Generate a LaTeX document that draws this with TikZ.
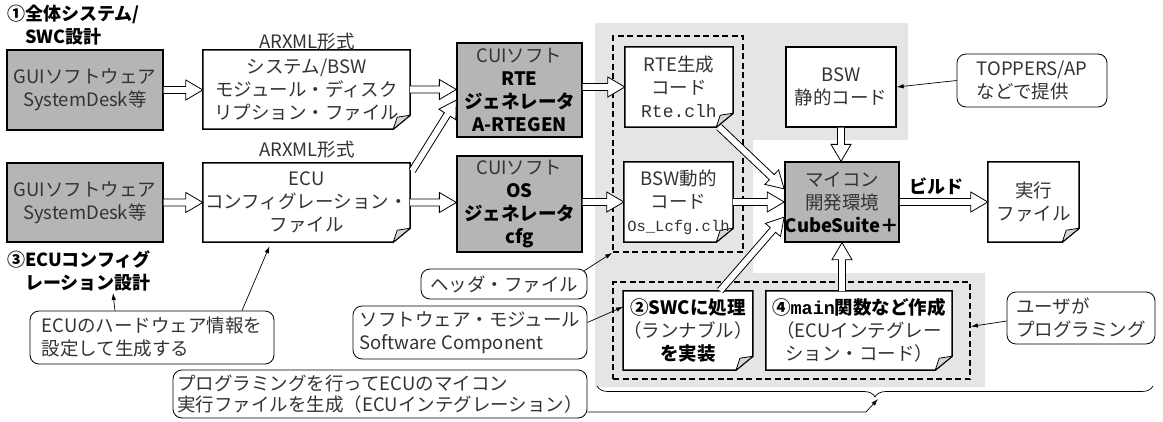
\documentclass[tikz,border=0pt]{standalone}
\usepackage{fontspec}
\setmainfont{Noto Sans CJK JP}
\newfontfamily\monof{Liberation Mono}
\usetikzlibrary{arrows.meta,calc,decorations.pathreplacing}
\definecolor{boxgray}{HTML}{B4B5B7}
\definecolor{bggray}{HTML}{E4E5E6}
\definecolor{foldgray}{HTML}{D6D6D6}
\definecolor{txt}{HTML}{333333}
\pgfdeclarelayer{back}
\pgfdeclarelayer{mid}
\pgfsetlayers{back,mid,main}
\newcommand\bk[1]{{\color{black}\bfseries #1}}
\tikzset{
  base/.style={font=\fontsize{18.5}{23}\selectfont, text=txt, inner sep=0pt, align=center},
  gbox/.style={base, draw=black, line width=1.3pt, fill=boxgray},
  docnode/.style={base},
  wbox/.style={base, draw=black, line width=1.3pt, fill=white},
  callout/.style={base, draw=black, line width=0.8pt, rounded corners=9pt, align=left, fill=white},
  dbox/.style={draw=black, line width=1.7pt, dash pattern=on 6pt off 3.5pt, inner sep=0pt},
  harr/.style={draw=black, line width=0.8pt, fill=white, line join=miter},
  callarr/.style={draw=black, line width=0.7pt, -{Latex[length=7pt,width=4.5pt]}},
  lab/.style={font=\fontsize{18}{22.5}\selectfont\bfseries, text=black, inner sep=0pt, align=left},
  docline/.style={draw=black, line width=1.5pt, fill=white},
  foldline/.style={draw=black, line width=0.8pt, fill=foldgray, line join=round},
}
\newcommand\docframe[1]{%
  \begin{pgfonlayer}{mid}
  \draw[docline] (#1.north west) -- (#1.north east) -- ([yshift=14pt]#1.south east) -- ([xshift=-17pt]#1.south east) -- (#1.south west) -- cycle;
  \draw[foldline] ([yshift=14pt]#1.south east) -- ([xshift=-13pt,yshift=12pt]#1.south east) -- ([xshift=-17pt]#1.south east) -- cycle;
  \end{pgfonlayer}}
\newcommand\harrow[2]{%
  \draw[harr] let \p1=(#1), \p2=(#2), \n1={atan2(\y2-\y1,\x2-\x1)}, \n2={veclen(\x2-\x1,\y2-\y1)} in
    [shift={(\x1,\y1)}, rotate=\n1]
    (0pt,3.5pt) -- ({\n2*1pt-17pt},3.5pt) -- ({\n2*1pt-17pt},10pt) -- ({\n2*1pt},0pt) -- ({\n2*1pt-17pt},-10pt) -- ({\n2*1pt-17pt},-3.5pt) -- (0pt,-3.5pt);}
\begin{document}
\begin{tikzpicture}[x=1pt,y=-1pt]
\useasboundingbox (0,0) rectangle (1163,421);
\begin{pgfonlayer}{back}
\fill[bggray] (595,23) -- (908,23) -- (908,140) -- (753,140) -- (753,273) -- (985,273) -- (985,387) -- (595,387) -- cycle;
\end{pgfonlayer}

% labels
\node[lab, anchor=west] (lab1) at (7,25) {①全体システム/\\\phantom{①}SWC設計};
\node[lab, anchor=west] (lab3) at (7,271) {③ECUコンフィグ\\\phantom{③}レーション設計};
\node[base] (arx1) at (307,42) {ARXML形式};
\node[base] (arx2) at (307,150) {ARXML形式};
\node[lab] (build) at (936,186) {ビルド};

% boxes
\node[gbox, minimum width=156pt, minimum height=80pt] (gui1) at (85,90) {GUIソフトウェア\\SystemDesk等};
\node[gbox, minimum width=156pt, minimum height=79pt] (gui2) at (85,202.5) {GUIソフトウェア\\SystemDesk等};
\node[docnode, minimum width=207pt, minimum height=79pt] (doc1) at (306.5,89.5) {システム/BSW\\モジュール・ディスク\\リプション・ファイル};
\node[docnode, minimum width=207pt, minimum height=79pt] (doc2) at (306.5,202.5) {ECU\\コンフィグレーション・\\ファイル};
\node[gbox, minimum width=125pt, minimum height=94pt, font=\fontsize{18.5}{23}\selectfont] (cui1) at (519.5,90) {CUIソフト\\\bk{RTE}\\\bk{ジェネレータ}\\\bk{A-RTEGEN}};
\node[gbox, minimum width=125pt, minimum height=96pt, font=\fontsize{18.5}{23}\selectfont] (cui2) at (519.5,204) {CUIソフト\\\bk{OS}\\\bk{ジェネレータ}\\\bk{cfg}};
\node[docnode, minimum width=108pt, minimum height=80pt] (rte) at (679,87) {RTE生成\\コード\\{\monof\fontsize{18}{23}\selectfont Rte.clh}};
\node[docnode, minimum width=109pt, minimum height=80pt] (dyn) at (678.5,202) {BSW動的\\コード\\{\monof\fontsize{15.5}{23}\selectfont Os\_Lcfg.clh}};
\node[wbox, minimum width=110pt, minimum height=80pt] (bsws) at (841,87) {BSW\\静的コード};
\node[gbox, minimum width=112pt, minimum height=80pt] (mcu) at (842,202) {マイコン\\開発環境\\\bk{CubeSuite＋}};
\node[docnode, minimum width=91pt, minimum height=80pt] (exe) at (1033.5,202) {実行\\ファイル};
\node[docnode, minimum width=128pt, minimum height=79pt] (swc) at (688,330.5) {\bk{②SWCに処理}\\（ランナブル）\\\bk{を実装}};
\node[docnode, minimum width=186pt, minimum height=79pt] (mainf) at (859,330.5) {\bk{④{\monof main}関数など作成}\\（ECUインテグレー\\ション・コード）};

\docframe{doc1}
\docframe{doc2}
\docframe{rte}
\docframe{dyn}
\docframe{exe}
\docframe{swc}
\docframe{mainf}

% dashed groups
\node[dbox, minimum width=130pt, minimum height=216pt] (dash1) at (678,144) {};
\node[dbox, minimum width=357pt, minimum height=97pt] (dash2) at (791.5,330.5) {};

% callouts
\node[callout, minimum width=150pt, minimum height=53pt] (topp) at (1032,80.5) {TOPPERS/AP\\などで提供};
\node[callout, minimum width=148pt, minimum height=52pt] (user) at (1081,318) {ユーザが\\プログラミング};
\node[callout, minimum width=244pt, minimum height=53pt] (ecuc) at (152,337.5) {ECUのハードウェア情報を\\設定して生成する};
\node[callout, minimum width=166pt, minimum height=30pt, align=center] (hdr) at (504,284) {ヘッダ・ファイル};
\node[callout, minimum width=234pt, minimum height=53pt] (soft) at (470,332.5) {ソフトウェア・モジュール\\Software Component};
\node[callout, minimum width=414pt, minimum height=48pt, font=\fontsize{18.5}{20.5}\selectfont] (big) at (380,394) {プログラミングを行ってECUのマイコン\\実行ファイルを生成（ECUインテグレーション）};

% hollow arrows
\harrow{gui1.east}{gui1.east -| doc1.west}
\harrow{gui2.east}{gui2.east -| doc2.west}
\harrow{doc1.east}{doc1.east -| cui1.west}
\harrow{[xshift=2pt,yshift=-8pt]doc2.north east}{[yshift=-10pt]cui1.west}
\harrow{doc2.east}{doc2.east -| cui2.west}
\harrow{cui1.east |- rte.west}{rte.west}
\harrow{cui2.east |- dyn.west}{dyn.west}
\harrow{[xshift=-14pt]rte.south east}{[yshift=13pt]mcu.west}
\harrow{dyn.east}{dyn.east -| mcu.west}
\harrow{[xshift=32pt]swc.north}{[yshift=-15pt]mcu.west}
\harrow{bsws.south}{bsws.south |- mcu.north}
\harrow{mcu.south |- mainf.north}{mcu.south}
\harrow{mcu.east}{mcu.east -| exe.west}

% brace
\coordinate (t3) at (113,293);
\coordinate (bk) at (866,412);
\coordinate (btip) at (878,399);
\draw[line width=0.7pt, decorate, decoration={brace, mirror, amplitude=11pt}] (597,386) -- (1153,386);

% callout arrows
\draw[callarr] (topp.west) -- (bsws.east);
\draw[callarr] ([yshift=-3pt]user.west) -- ([yshift=4pt]dash2.east);
\draw[callarr] ([xshift=-3pt,yshift=-2pt]hdr.north east) -- (dash1.south west);
\draw[callarr] ([yshift=10pt]soft.east) -- ([yshift=-16pt]swc.north west);
\draw[callarr] ([xshift=-37pt]ecuc.north) -- (t3);
\draw[callarr] ([xshift=90pt]ecuc.north) -- ([xshift=-37pt,yshift=-4pt]doc2.south);
\draw[callarr] ([yshift=-18pt]big.east) -- (bk) -- (btip);
\end{tikzpicture}
\end{document}
